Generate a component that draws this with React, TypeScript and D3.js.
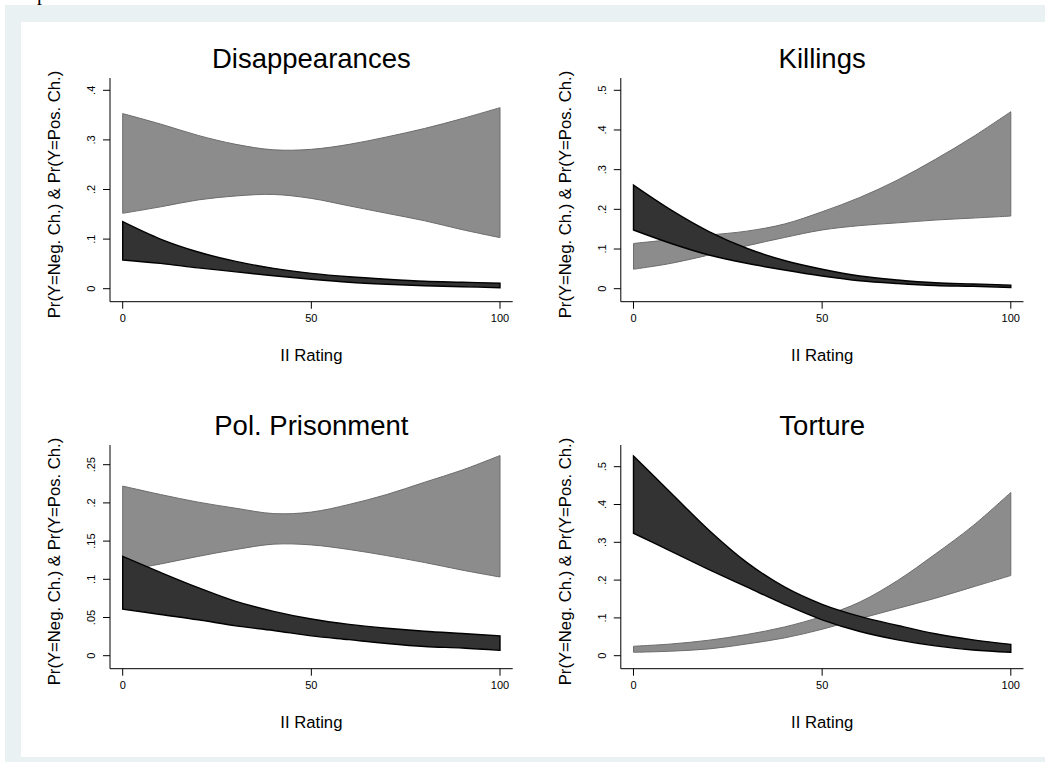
import React from "react";
import * as d3 from "d3";

// II rating grid the predictions were evaluated at
const rating = [0, 10, 20, 30, 40, 50, 60, 70, 80, 90, 100];

// Disappearances: Pr(Y = Pos. Ch.) band (grey) and Pr(Y = Neg. Ch.) band (black)
const disPosLo = [0.152, 0.165, 0.179, 0.187, 0.19, 0.182, 0.167, 0.152, 0.137, 0.119, 0.103];
const disPosHi = [0.353, 0.332, 0.309, 0.291, 0.28, 0.281, 0.291, 0.306, 0.323, 0.343, 0.365];
const disNegLo = [0.058, 0.051, 0.042, 0.034, 0.026, 0.019, 0.013, 0.009, 0.006, 0.004, 0.002];
const disNegHi = [0.135, 0.1, 0.074, 0.055, 0.041, 0.031, 0.024, 0.019, 0.015, 0.013, 0.011];

// Killings
const kilPosLo = [0.049, 0.064, 0.085, 0.108, 0.129, 0.148, 0.159, 0.166, 0.173, 0.178, 0.183];
const kilPosHi = [0.114, 0.124, 0.135, 0.145, 0.163, 0.194, 0.23, 0.274, 0.326, 0.383, 0.446];
const kilNegLo = [0.148, 0.114, 0.085, 0.064, 0.047, 0.032, 0.02, 0.013, 0.008, 0.006, 0.003];
const kilNegHi = [0.261, 0.198, 0.144, 0.102, 0.071, 0.049, 0.032, 0.022, 0.015, 0.012, 0.009];

// Pol. Prisonment
const polPosLo = [0.111, 0.12, 0.13, 0.139, 0.146, 0.145, 0.139, 0.131, 0.122, 0.112, 0.103];
const polPosHi = [0.222, 0.211, 0.201, 0.193, 0.186, 0.188, 0.198, 0.211, 0.227, 0.243, 0.262];
const polNegLo = [0.061, 0.054, 0.047, 0.039, 0.033, 0.026, 0.021, 0.016, 0.012, 0.01, 0.007];
const polNegHi = [0.13, 0.109, 0.089, 0.071, 0.058, 0.048, 0.041, 0.036, 0.032, 0.029, 0.026];

// Torture
const torPosLo = [0.009, 0.012, 0.018, 0.031, 0.047, 0.07, 0.098, 0.125, 0.152, 0.182, 0.212];
const torPosHi = [0.025, 0.031, 0.041, 0.056, 0.076, 0.104, 0.142, 0.199, 0.269, 0.344, 0.432];
const torNegLo = [0.324, 0.276, 0.228, 0.182, 0.136, 0.095, 0.064, 0.042, 0.026, 0.015, 0.009];
const torNegHi = [0.528, 0.43, 0.332, 0.247, 0.182, 0.136, 0.104, 0.08, 0.058, 0.042, 0.03];

const titles = ["Disappearances", "Killings", "Pol. Prisonment", "Torture"];
const xTicks = [0, 50, 100];
const yTicksDis = [0, 0.1, 0.2, 0.3, 0.4];
const yTicksKil = [0, 0.1, 0.2, 0.3, 0.4, 0.5];
const yTicksPol = [0, 0.05, 0.1, 0.15, 0.2, 0.25];
const yTicksTor = [0, 0.1, 0.2, 0.3, 0.4, 0.5];
const yTitle = "Pr(Y=Neg. Ch.) & Pr(Y=Pos. Ch.)";
const xTitle = "II Rating";

const panels = [
  { title: titles[0], ticks: yTicksDis, topPx: 90.3, pos: [disPosLo, disPosHi], neg: [disNegLo, disNegHi] },
  { title: titles[1], ticks: yTicksKil, topPx: 90.3, pos: [kilPosLo, kilPosHi], neg: [kilNegLo, kilNegHi] },
  { title: titles[2], ticks: yTicksPol, topPx: 97.7, pos: [polPosLo, polPosHi], neg: [polNegLo, polNegHi] },
  { title: titles[3], ticks: yTicksTor, topPx: 99.7, pos: [torPosLo, torPosHi], neg: [torNegLo, torNegHi] },
];

const FONT = "'Liberation Sans', Arial, Helvetica, sans-serif";
const COL_DX = 510.8;
const ROW_DY = 367;

// stata style ".1" labels
const fmt = (v: number) => (v === 0 ? "0" : String(+v.toFixed(3)).replace(/^0\./, "."));

function Panel({ p, i }: { p: any; i: number }) {
  const ox = (i % 2) * COL_DX;
  const oy = Math.floor(i / 2) * ROW_DY;
  const x = d3.scaleLinear().domain([0, 100]).range([122.7, 500]);
  const y = d3.scaleLinear().domain([0, p.ticks[p.ticks.length - 1]]).range([288.7, p.topPx]);
  const axisY = 301.7;
  const axisX = 110;

  const band = (lo: number[], hi: number[]) =>
    d3
      .area<number>()
      .x((d) => x(d))
      .y0((_, k) => y(lo[k]))
      .y1((_, k) => y(hi[k]))
      .curve(d3.curveCatmullRom.alpha(0.5))(rating) as string;

  return (
    <g transform={`translate(${ox},${oy})`}>
      <text x={(x(0) + x(100)) / 2} y={68} textAnchor="middle" fontFamily={FONT} fontSize={27.5} fill="#000">
        {p.title}
      </text>
      <path d={band(p.pos[0], p.pos[1])} fill="#8c8c8c" stroke="#6c6c6c" strokeWidth={1} />
      <path d={band(p.neg[0], p.neg[1])} fill="#333333" stroke="#000" strokeWidth={1.4} />
      {/* y axis */}
      <line x1={axisX} x2={axisX} y1={78} y2={axisY} stroke="#000" strokeWidth={1} />
      {p.ticks.map((t: number) => (
        <g key={t}>
          <line x1={axisX - 7} x2={axisX} y1={y(t)} y2={y(t)} stroke="#000" strokeWidth={1} />
          <text
            transform={`translate(95,${y(t)}) rotate(-90)`}
            textAnchor="middle"
            fontFamily={FONT}
            fontSize={11}
            fill="#000"
          >
            {fmt(t)}
          </text>
        </g>
      ))}
      <text
        transform={`translate(60,194.5) rotate(-90)`}
        textAnchor="middle"
        fontFamily={FONT}
        fontSize={16.7}
        fill="#000"
      >
        {yTitle}
      </text>
      {/* x axis */}
      <line x1={axisX} x2={512.7} y1={axisY} y2={axisY} stroke="#000" strokeWidth={1} />
      {xTicks.map((t) => (
        <g key={t}>
          <line x1={x(t)} x2={x(t)} y1={axisY} y2={axisY + 7} stroke="#000" strokeWidth={1} />
          <text x={x(t)} y={321.7} textAnchor="middle" fontFamily={FONT} fontSize={11} fill="#000">
            {t}
          </text>
        </g>
      ))}
      <text x={(x(0) + x(100)) / 2} y={361} textAnchor="middle" fontFamily={FONT} fontSize={16.7} fill="#000">
        {xTitle}
      </text>
    </g>
  );
}

export default function App() {
  return (
    <svg
      width={1045}
      height={762}
      style={{ position: "absolute", left: 0, top: 0, display: "block", background: "#fff" }}
    >
      <text x={37} y={0} fontFamily="'Liberation Serif', serif" fontSize={20} fill="#000">
        p
      </text>
      <rect x={5} y={5} width={1040} height={757} fill="#e9f1f3" />
      <rect x={21} y={22} width={1024} height={735} fill="#fff" />
      {panels.map((p, i) => (
        <Panel key={p.title} p={p} i={i} />
      ))}
    </svg>
  );
}
